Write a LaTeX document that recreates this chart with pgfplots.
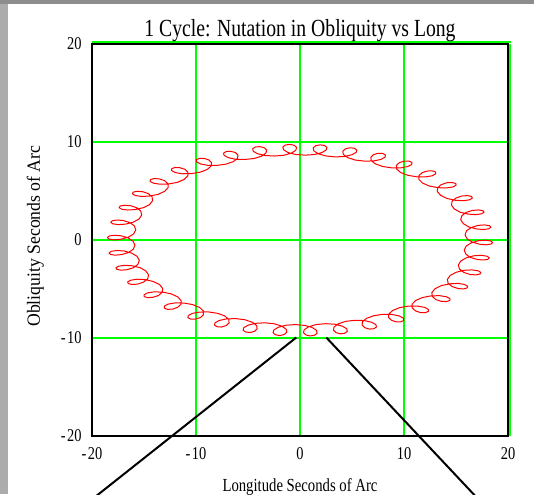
\documentclass[border=0pt]{standalone}
\usepackage{fontspec}
\setmainfont{Liberation Serif}
\newfontfamily\cond[FakeStretch=0.8]{Liberation Serif}
\newfontfamily\condy[FakeStretch=0.95]{Liberation Serif}
\usepackage{pgfplots}
\pgfplotsset{compat=1.18}
\definecolor{grd}{RGB}{0,255,0}
\definecolor{frameA}{RGB}{141,141,141}
\definecolor{frameB}{RGB}{172,172,172}
\begin{document}
\begin{tikzpicture}
\useasboundingbox (0,0) rectangle (267pt,247pt);
\fill[frameB] (0,0) rectangle (267pt,247pt);
\fill[frameA] (0,245pt) rectangle (267pt,247pt);
\fill[white] (4pt,0) rectangle (267pt,245pt);
\begin{axis}[
  scale only axis, width=208pt, height=196pt,
  at={(46pt,29pt)}, anchor=south west,
  xmin=-20, xmax=20, ymin=-20, ymax=20,
  xtick={-20,-10,0,10,20}, ytick={-20,-10,0,10,20},
  xticklabels={-\kern0.8pt20,-\kern0.8pt10,0,10,20},
  yticklabels={-\kern0.8pt20,-\kern0.8pt10,0,10,20},
  major tick length=0pt,
  grid=major, major grid style={grd, line width=0.9pt},
  axis line style={black, line width=0.9pt},
  clip=false,
  xticklabel style={font=\cond\fontsize{9}{10}\selectfont, anchor=north, inner sep=0pt, yshift=-5.5pt},
  yticklabel style={font=\cond\fontsize{9}{10}\selectfont, anchor=east, inner sep=0pt, xshift=-5pt},
  title={1 Cycle: Nutation in Obliquity vs Long},
  every axis title/.style={at={(axis description cs:0.5,1.0179)}, anchor=base, inner sep=0pt, font=\cond\fontsize{12.3}{14}\selectfont},
  xlabel={Longitude Seconds of Arc},
  xlabel style={at={(axis description cs:0.5,-0.1405)}, anchor=base, inner sep=0pt, font=\cond\fontsize{9.2}{11}\selectfont},
  ylabel={Obliquity Seconds of Arc},
  ylabel style={at={(axis description cs:-0.125,0.51)}, anchor=base, inner sep=0pt, font=\condy\fontsize{9.3}{11}\selectfont},
]
\addplot[red, line width=0.5pt, line join=round] coordinates {
(-2.45,8.57) (-1.55,8.65) (-0.82,8.87) (-0.40,9.16) (-0.33,9.46) (-0.57,9.67) (-0.99,9.76) (-1.41,9.69) (-1.65,9.49) (-1.58,9.21) (-1.16,8.93) (-0.44,8.73)
(0.48,8.66) (1.38,8.72) (2.10,8.92) (2.52,9.19) (2.59,9.46) (2.34,9.65) (1.93,9.71) (1.51,9.62) (1.27,9.40) (1.33,9.10) (1.75,8.80) (2.48,8.58)
(3.38,8.48) (4.28,8.52) (5.00,8.70) (5.41,8.95) (5.46,9.19) (5.21,9.37) (4.79,9.41) (4.36,9.30) (4.11,9.05) (4.17,8.73) (4.58,8.41) (5.30,8.16)
(6.20,8.05) (7.08,8.07) (7.78,8.22) (8.17,8.45) (8.22,8.68) (7.95,8.83) (7.51,8.85) (7.07,8.71) (6.81,8.45) (6.85,8.11) (7.24,7.77) (7.95,7.50)
(8.83,7.36) (9.69,7.36) (10.37,7.50) (10.74,7.71) (10.76,7.92) (10.48,8.05) (10.02,8.05) (9.56,7.90) (9.27,7.61) (9.29,7.25) (9.67,6.89) (10.35,6.61)
(11.21,6.45) (12.04,6.44) (12.70,6.55) (13.04,6.74) (13.04,6.94) (12.73,7.05) (12.24,7.04) (11.75,6.87) (11.44,6.57) (11.43,6.19) (11.78,5.81) (12.43,5.51)
(13.27,5.34) (14.07,5.31) (14.69,5.41) (15.01,5.59) (14.97,5.77) (14.62,5.87) (14.10,5.84) (13.58,5.65) (13.24,5.34) (13.20,4.95) (13.52,4.56) (14.14,4.24)
(14.94,4.05) (15.71,4.01) (16.29,4.10) (16.57,4.27) (16.50,4.44) (16.12,4.53) (15.56,4.49) (15.01,4.29) (14.63,3.97) (14.56,3.56) (14.84,3.16) (15.42,2.83)
(16.19,2.64) (16.91,2.59) (17.46,2.67) (17.70,2.83) (17.59,2.99) (17.17,3.07) (16.58,3.02) (15.98,2.82) (15.57,2.49) (15.45,2.08) (15.70,1.67) (16.24,1.33)
(16.97,1.13) (17.65,1.07) (18.16,1.15) (18.36,1.31) (18.21,1.46) (17.75,1.54) (17.11,1.49) (16.48,1.28) (16.02,0.95) (15.87,0.53) (16.07,0.12) (16.58,-0.22)
(17.26,-0.43) (17.90,-0.49) (18.37,-0.41) (18.53,-0.25) (18.34,-0.10) (17.84,-0.02) (17.16,-0.07) (16.48,-0.28) (15.98,-0.62) (15.79,-1.03) (15.95,-1.45) (16.41,-1.79)
(17.06,-1.99) (17.66,-2.04) (18.08,-1.96) (18.20,-1.80) (17.97,-1.65) (17.43,-1.56) (16.71,-1.61) (15.99,-1.82) (15.45,-2.15) (15.22,-2.56) (15.34,-2.97) (15.76,-3.31)
(16.36,-3.52) (16.92,-3.56) (17.31,-3.47) (17.39,-3.30) (17.12,-3.14) (16.54,-3.05) (15.78,-3.09) (15.02,-3.29) (14.44,-3.62) (14.17,-4.02) (14.25,-4.43) (14.63,-4.75)
(15.19,-4.95) (15.72,-4.99) (16.07,-4.89) (16.12,-4.71) (15.80,-4.53) (15.19,-4.43) (14.40,-4.47) (13.60,-4.65) (12.99,-4.97) (12.68,-5.36) (12.72,-5.76) (13.07,-6.08)
(13.59,-6.26) (14.09,-6.28) (14.40,-6.17) (14.41,-5.98) (14.07,-5.79) (13.42,-5.68) (12.60,-5.70) (11.77,-5.87) (11.12,-6.17) (10.78,-6.55) (10.79,-6.93) (11.11,-7.24)
(11.60,-7.41) (12.06,-7.41) (12.35,-7.28) (12.34,-7.08) (11.97,-6.87) (11.29,-6.74) (10.44,-6.74) (9.58,-6.90) (8.91,-7.19) (8.54,-7.55) (8.52,-7.91) (8.81,-8.20)
(9.27,-8.36) (9.71,-8.34) (9.98,-8.19) (9.94,-7.97) (9.55,-7.75) (8.85,-7.60) (7.98,-7.58) (7.10,-7.72) (6.40,-7.99) (6.01,-8.33) (5.97,-8.68) (6.24,-8.95)
(6.68,-9.09) (7.10,-9.05) (7.35,-8.88) (7.30,-8.64) (6.89,-8.39) (6.18,-8.22) (5.29,-8.19) (4.39,-8.30) (3.68,-8.55) (3.27,-8.88) (3.22,-9.20) (3.47,-9.45)
(3.89,-9.57) (4.31,-9.51) (4.55,-9.32) (4.49,-9.05) (4.07,-8.79) (3.34,-8.59) (2.44,-8.54) (1.54,-8.63) (0.82,-8.86) (0.40,-9.16) (0.34,-9.47) (0.58,-9.69)
(0.99,-9.79) (1.41,-9.71) (1.65,-9.50) (1.58,-9.21) (1.16,-8.92) (0.43,-8.71) (-0.47,-8.63) (-1.37,-8.70) (-2.10,-8.91) (-2.52,-9.19) (-2.59,-9.47) (-2.35,-9.67)
(-1.94,-9.75) (-1.52,-9.64) (-1.27,-9.41) (-1.33,-9.10) (-1.75,-8.79) (-2.47,-8.55) (-3.37,-8.45) (-4.27,-8.50) (-4.99,-8.69) (-5.41,-8.95) (-5.47,-9.21) (-5.22,-9.39)
(-4.81,-9.44) (-4.38,-9.32) (-4.12,-9.06) (-4.17,-8.73) (-4.57,-8.40) (-5.28,-8.14) (-6.17,-8.02) (-7.06,-8.05) (-7.77,-8.21) (-8.17,-8.45) (-8.22,-8.69) (-7.97,-8.85)
(-7.54,-8.88) (-7.09,-8.73) (-6.82,-8.46) (-6.85,-8.11) (-7.23,-7.75) (-7.93,-7.48) (-8.80,-7.34) (-9.66,-7.35) (-10.36,-7.49) (-10.74,-7.71) (-10.78,-7.93) (-10.50,-8.07)
(-10.06,-8.08) (-9.58,-7.92) (-9.28,-7.62) (-9.29,-7.25) (-9.65,-6.88) (-10.32,-6.59) (-11.17,-6.43) (-12.01,-6.42) (-12.68,-6.54) (-13.04,-6.74) (-13.05,-6.95) (-12.75,-7.07)
(-12.28,-7.06) (-11.78,-6.88) (-11.45,-6.57) (-11.43,-6.19) (-11.76,-5.80) (-12.40,-5.49) (-13.22,-5.32) (-14.03,-5.29) (-14.67,-5.40) (-15.00,-5.59) (-14.98,-5.77) (-14.66,-5.88)
(-14.16,-5.85) (-13.62,-5.67) (-13.26,-5.34) (-13.20,-4.95) (-13.50,-4.55) (-14.11,-4.23) (-14.89,-4.04) (-15.67,-4.00) (-16.27,-4.10) (-16.57,-4.27) (-16.52,-4.44) (-16.16,-4.54)
(-15.62,-4.50) (-15.05,-4.30) (-14.65,-3.97) (-14.56,-3.56) (-14.82,-3.16) (-15.38,-2.82) (-16.13,-2.63) (-16.87,-2.58) (-17.44,-2.67) (-17.70,-2.83) (-17.61,-2.99) (-17.21,-3.08)
(-16.64,-3.03) (-16.02,-2.83) (-15.59,-2.49) (-15.45,-2.08) (-15.67,-1.66) (-16.20,-1.33) (-16.91,-1.12) (-17.61,-1.07) (-18.14,-1.15) (-18.36,-1.31) (-18.23,-1.47) (-17.79,-1.55)
(-17.18,-1.49) (-16.52,-1.29) (-16.04,-0.95) (-15.87,-0.53) (-16.05,-0.12) (-16.53,0.22) (-17.20,0.43) (-17.86,0.48) (-18.35,0.41) (-18.53,0.25) (-18.36,0.10) (-17.88,0.02)
(-17.22,0.08) (-16.52,0.28) (-16.00,0.62) (-15.79,1.03) (-15.93,1.45) (-16.37,1.78) (-17.00,1.99) (-17.62,2.04) (-18.06,1.96) (-18.20,1.80) (-17.99,1.65) (-17.47,1.57)
(-16.77,1.62) (-16.03,1.82) (-15.47,2.15) (-15.22,2.56) (-15.32,2.97) (-15.72,3.30) (-16.30,3.50) (-16.89,3.55) (-17.29,3.47) (-17.39,3.30) (-17.14,3.14) (-16.58,3.06)
(-15.84,3.11) (-15.06,3.30) (-14.46,3.62) (-14.17,4.02) (-14.23,4.42) (-14.60,4.74) (-15.14,4.93) (-15.69,4.97) (-16.05,4.88) (-16.12,4.71) (-15.82,4.54) (-15.22,4.44)
(-14.44,4.49) (-13.63,4.66) (-13.00,4.98) (-12.67,5.36) (-12.70,5.75) (-13.03,6.06) (-13.54,6.24) (-14.05,6.27) (-14.39,6.16) (-14.41,5.98) (-14.09,5.80) (-13.45,5.69)
(-12.64,5.72) (-11.80,5.88) (-11.14,6.18) (-10.78,6.55) (-10.78,6.92) (-11.08,7.22) (-11.56,7.38) (-12.04,7.40) (-12.34,7.27) (-12.34,7.08) (-11.98,6.88) (-11.32,6.76)
(-10.47,6.77) (-9.61,6.92) (-8.92,7.20) (-8.54,7.55) (-8.51,7.91) (-8.78,8.18) (-9.24,8.33) (-9.69,8.32) (-9.97,8.19) (-9.94,7.97) (-9.56,7.76) (-8.87,7.62)
(-8.00,7.61) (-7.12,7.74) (-6.41,8.00) (-6.01,8.33) (-5.96,8.67) (-6.22,8.93) (-6.66,9.05) (-7.09,9.03) (-7.35,8.87) (-7.30,8.64) (-6.90,8.40) (-6.19,8.24)
(-5.30,8.22) (-4.40,8.32) (-3.68,8.56) (-3.27,8.88) (-3.21,9.19) (-3.46,9.43) (-3.88,9.53) (-4.30,9.49) (-4.55,9.31) (-4.49,9.05) (-4.07,8.80) (-3.35,8.62)
(-2.45,8.57)
};
\addplot[black, line width=1pt] coordinates {(-0.36,-9.95) (-20.04,-26.5)};
\addplot[black, line width=1pt] coordinates {(2.53,-9.95) (17.19,-26.5)};
\draw[grd, line width=0.9pt] ([yshift=1pt]axis cs:-20,20) -- ([yshift=1pt,xshift=1.5pt]axis cs:20,20);
\draw[grd, line width=0.9pt] ([xshift=1pt]axis cs:20,20) -- ([xshift=1pt]axis cs:20,-20);
\end{axis}
\end{tikzpicture}
\end{document}
